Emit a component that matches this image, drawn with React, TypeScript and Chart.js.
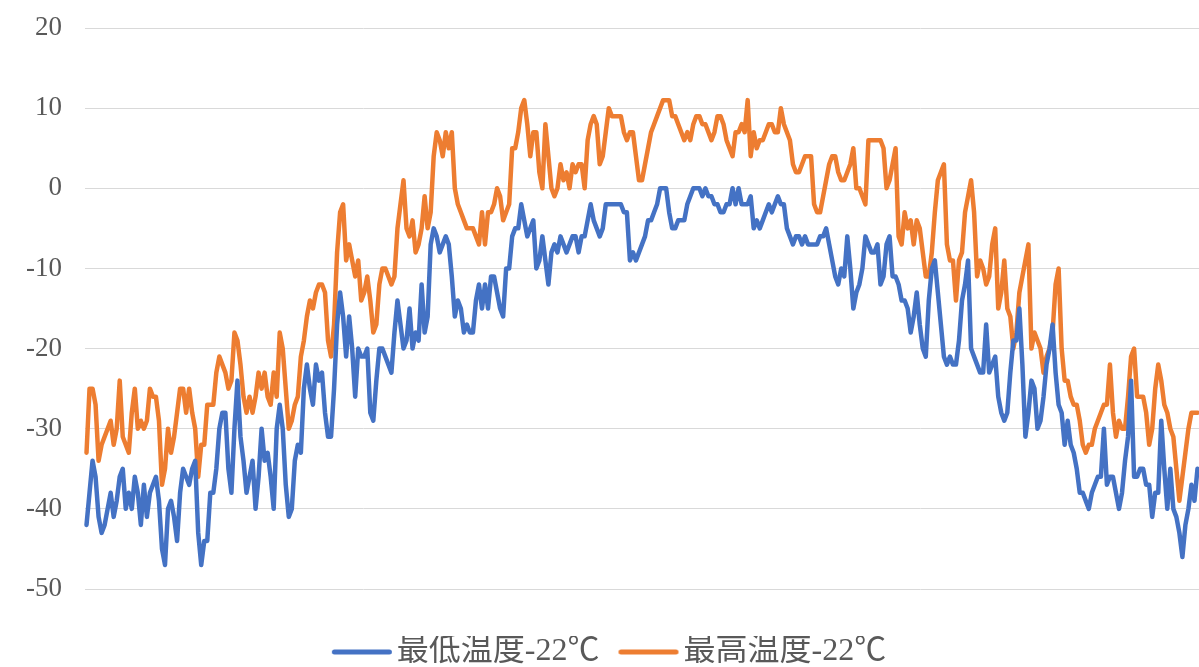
import React, { useEffect, useRef } from "react";
import { Chart, registerables } from "chart.js";

Chart.register(...registerables);

const seriesNames = ["最低温度-22℃", "最高温度-22℃"];

const minTemps = [
  -42, -38, -34, -36, -41, -43, -42, -40, -38, -41,
  -39, -36, -35, -40, -38, -40, -36, -38, -42, -37,
  -41, -38, -37, -36, -39, -45, -47, -40, -39, -41,
  -44, -38, -35, -36, -37, -35, -34, -43, -47, -44,
  -44, -38, -38, -35, -30, -28,
  -28,
  -35, -38, -30, -24, -31, -34, -38, -36, -34, -40,
  -36, -30, -34, -33, -36, -40, -30, -27, -30, -37,
  -41, -40, -34, -32, -33, -25, -22, -25, -27, -22,
  -24, -23, -28, -31, -31, -25, -17, -13, -16, -21,
  -16, -20, -26, -20, -21, -21, -20, -28, -29, -24,
  -20, -20, -21, -22, -23, -18, -14, -17, -20, -19,
  -15, -20, -18, -19, -12, -18, -16, -7, -5, -6,
  -8, -7, -6, -7, -11, -16, -14, -15, -18, -17,
  -18, -18, -14, -12, -15, -12, -15, -11, -11, -13,
  -15, -16, -10, -10, -6, -5, -5, -2, -4, -6,
  -5, -4, -10, -9, -6, -9, -12, -8, -7, -8,
  -6, -7, -8, -7, -6, -6, -8, -6, -6, -4,
  -2, -4, -5, -6, -5, -2, -2, -2, -2, -2,
  -2, -3, -3, -9, -8, -9, -8, -7, -6, -4,
  -4, -3, -2, 0, 0, 0, -3, -5, -5, -4,
  -4, -4, -2, -1, 0, 0, 0, -1, 0, -1,
  -1, -2, -2, -3, -3, -2, -2, 0, -2, 0,
  -2, -2, -2, -1, -5, -4, -5, -4, -3, -2,
  -3, -2, -1, -2, -2, -5, -6, -7, -6, -6,
  -7, -6, -7, -7, -7, -7, -6, -6, -5, -7,
  -9, -11, -12, -10, -11, -6, -10, -15, -13, -12,
  -10, -6, -7, -8, -8, -7, -12, -11, -7, -6,
  -11, -11, -12, -14, -14, -15, -18, -16, -13, -17,
  -20, -21, -14, -10, -9, -13, -17, -21, -22, -21,
  -22, -22, -19, -14, -12, -9, -20, -21, -22, -23,
  -23, -17, -23, -22, -21, -26, -28, -29, -28, -23,
  -19, -19, -15, -22, -31, -28, -24, -25, -30, -29,
  -26, -22, -20, -17, -23, -27, -28, -32, -29, -32,
  -33, -35, -38, -38, -39, -40, -38, -37, -36, -36,
  -30, -37, -36, -36, -38, -40, -38, -34, -31, -24,
  -36, -36, -35, -35, -37, -37, -41, -38, -38, -29,
  -35, -40, -35, -40, -41, -43, -46, -42, -40, -37,
  -39, -35,
];

const maxTemps = [
  -33, -25, -25, -27, -34, -32, -31, -30, -29, -32,
  -30, -24, -31, -32, -33, -28, -25, -30, -29, -30,
  -29, -25, -26, -26, -29, -37, -35, -30, -33, -31,
  -28, -25, -25, -28, -25, -28, -30, -36, -32, -32,
  -27, -27, -27, -23, -21, -22, -23, -25, -24, -18,
  -19, -22, -26, -28, -26, -28, -26, -23, -25, -23,
  -26, -27, -23, -26, -18, -20, -25, -30, -29, -27,
  -26, -21, -19, -16, -14, -15, -13, -12, -12, -13,
  -19, -21, -17, -8, -3, -2, -9, -7, -9, -11,
  -9, -14, -13, -11, -14, -18, -17, -12, -10, -10,
  -11, -12, -11, -5, -2, 1, -5, -6, -4, -8,
  -7, -5, -1, -5, -3, 4, 7, 6, 4, 7,
  5, 7, 0, -2, -3, -4, -5, -5, -5, -6,
  -7, -3, -7, -3, -3, -2, 0, -1, -4, -3,
  -2, 5, 5, 7, 10, 11, 8, 4, 7, 7,
  2, 0, 8, 4, 0, -1, 0, 3, 1, 2,
  0, 3, 2, 3, 3, 0, 6, 8, 9, 8,
  3, 4, 7, 10, 9, 9, 9, 9, 7, 6,
  7, 7, 4, 1, 1, 3, 5, 7, 8, 9,
  10, 11, 11, 11, 9, 9, 8, 7, 6, 7,
  6, 8, 9, 9, 8, 8, 7, 6, 7, 9,
  9, 8, 6, 5, 4, 7, 7, 8, 7, 11,
  4, 7, 5, 6, 6, 7, 8, 8, 7, 7,
  10, 8, 7, 6, 3, 2, 2, 3, 4, 4,
  4, -2, -3, -3, -1, 1, 3, 4, 4, 2,
  1, 1, 2, 3, 5, 0, 0, -1, -2, 6,
  6, 6, 6, 6, 5, 0, 1, 3, 5, -6,
  -7, -3, -5, -4, -7, -4, -5, -8, -11, -11,
  -8, -3, 1, 2, 3, -7, -9, -9, -14, -9,
  -8, -3, -1, 1, -3, -11, -9, -10, -12, -11,
  -7, -5, -15, -13, -9, -15, -16, -20, -18, -13,
  -11, -9, -7, -20, -18, -19, -20, -23, -21, -20,
  -18, -12, -10, -20, -24, -24, -26, -27, -27, -29,
  -32, -33, -32, -32, -30, -29, -28, -27, -27, -22,
  -28, -31, -29, -30, -30, -26, -21, -20, -26, -26,
  -26, -28, -32, -30, -25, -22, -24, -27, -28, -30,
  -31, -35, -39, -36, -33, -30, -28, -28, -28,
];

const dayLabels = minTemps.map((_, i) => String(i + 1));
const yMin = -50;
const yMax = 20;
const yStep = 10;

const BLUE = "#4472C4";
const ORANGE = "#ED7D31";
const TEXT = "#595959";

// legend geometry
const LEGEND_FONT = 32;
const LINE_OFFSET = 19; // where the legend line starts inside an item
const LINE_LEN = 60;
const LINE_GAP = 5; // gap between legend line and its text
const BOX_W = LINE_OFFSET + LINE_LEN + LINE_GAP - LEGEND_FONT / 2;

function makeLegendLine(color: string): HTMLCanvasElement {
  const c = document.createElement("canvas");
  const half = Math.ceil(Math.max(BOX_W / 2, LINE_OFFSET + LINE_LEN - BOX_W / 2)) + 2;
  const W = half * 2;
  c.width = W;
  c.height = 10;
  const ctx = c.getContext("2d")!;
  const left = BOX_W / 2 - half; // image left relative to item x
  const start = LINE_OFFSET - left;
  const lw = 5;
  ctx.strokeStyle = color;
  ctx.lineWidth = lw;
  ctx.lineCap = "round";
  ctx.beginPath();
  ctx.moveTo(start + lw / 2, 5);
  ctx.lineTo(start + LINE_LEN - lw / 2, 5);
  ctx.stroke();
  return c;
}

export default function App() {
  const ref = useRef<HTMLCanvasElement | null>(null);

  useEffect(() => {
    document.body.style.margin = "0";
    const canvas = ref.current;
    if (!canvas) return;
    const chart = new Chart(canvas, {
      type: "line",
      data: {
        labels: dayLabels,
        datasets: [
          {
            label: seriesNames[0],
            data: minTemps,
            borderColor: BLUE,
            backgroundColor: BLUE,
            borderWidth: 4.5,
            pointRadius: 0,
            pointHoverRadius: 0,
            pointStyle: makeLegendLine(BLUE),
            tension: 0,
            borderJoinStyle: "round",
            borderCapStyle: "round",
          },
          {
            label: seriesNames[1],
            data: maxTemps,
            borderColor: ORANGE,
            backgroundColor: ORANGE,
            borderWidth: 4.5,
            pointRadius: 0,
            pointHoverRadius: 0,
            pointStyle: makeLegendLine(ORANGE),
            tension: 0,
            borderJoinStyle: "round",
            borderCapStyle: "round",
          },
        ],
      },
      options: {
        animation: false,
        responsive: false,
        events: [],
        layout: { padding: { top: 28, left: 0, right: 0, bottom: 0 } },
        scales: {
          x: {
            offset: true,
            grid: { display: false },
            border: { display: false },
            ticks: { display: false },
            afterFit: (s: any) => {
              s.height = 47;
            },
          },
          y: {
            min: yMin,
            max: yMax,
            ticks: {
              stepSize: yStep,
              padding: 0,
              color: TEXT,
              font: { family: "'Liberation Serif', serif", size: 27 },
            },
            grid: {
              color: "#D9D9D9",
              drawTicks: true,
              tickLength: 23,
              tickColor: "rgba(0,0,0,0)",
              lineWidth: 1,
            },
            border: { display: false },
            afterFit: (s: any) => {
              s.width = 85;
            },
          },
        },
        plugins: {
          legend: {
            position: "bottom",
            maxHeight: 31,
            labels: {
              usePointStyle: true,
              pointStyleWidth: BOX_W,
              padding: 0,
              color: TEXT,
              font: { family: "'Liberation Serif', 'Noto Sans CJK SC', serif", size: LEGEND_FONT },
            },
          },
          tooltip: { enabled: false },
        },
      },
    } as any);
    return () => chart.destroy();
  }, []);

  return <canvas ref={ref} width={1199} height={667} style={{ display: "block" }} />;
}
